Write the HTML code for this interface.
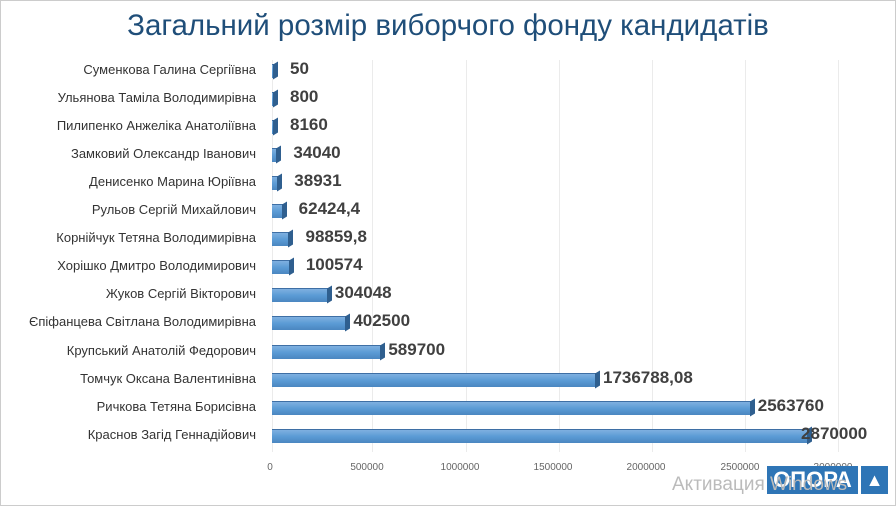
<!DOCTYPE html>
<html><head><meta charset="utf-8"><style>
body{margin:0;width:896px;height:506px;background:#fff;position:relative;overflow:hidden;font-family:"Liberation Sans",sans-serif}
.t{position:absolute;left:0;width:896px;top:9px;text-align:center;font-size:29.5px;color:#1f4e79}
.n{position:absolute;right:640px;font-size:13px;color:#333;white-space:nowrap}
.b{position:absolute;left:272px;height:13px;background:linear-gradient(#7fb0e0,#5b9bd5 50%,#4a86c0);border-top:1px solid #3e6fa5}
.c{position:absolute;width:5px;height:15px;background:#2f5f8f;transform:skewY(-30deg)}
.v{position:absolute;font-size:17px;font-weight:bold;color:#404040;white-space:nowrap}
.g{position:absolute;top:60px;height:392px;width:1px;background:#ebebeb}
.x{position:absolute;top:462px;font-size:10px;color:#666;transform:translateX(-50%)}
</style></head><body>
<div style="position:absolute;inset:0;border:1px solid #ccc"></div>
<div class="t">Загальний розмір виборчого фонду кандидатів</div>
<div class="g" style="left:272px"></div><div class="g" style="left:372px"></div><div class="g" style="left:466px"></div><div class="g" style="left:559px"></div><div class="g" style="left:652px"></div><div class="g" style="left:745px"></div><div class="g" style="left:838px"></div>
<div class="x" style="left:270px">0</div><div class="x" style="left:367px">500000</div><div class="x" style="left:460px">1000000</div><div class="x" style="left:553px">1500000</div><div class="x" style="left:646px">2000000</div><div class="x" style="left:740px">2500000</div><div class="x" style="left:833px">3000000</div>
<div id="r"></div>
<div style="position:absolute;left:767px;top:466px;width:91px;height:28px;background:#2e75b6;color:#fff;font-weight:bold;font-size:22px;line-height:28px;text-align:center">ОПОРА</div>
<div style="position:absolute;left:861px;top:466px;width:27px;height:28px;background:#2e75b6;color:#fff;font-size:18px;line-height:28px;text-align:center">▲</div>
<div style="position:absolute;left:672px;top:474px;font-size:19px;color:#bbb">Активация Windows</div>
<script>
var d=[["Суменкова Галина Сергіївна",50,"50"],["Ульянова Таміла Володимирівна",800,"800"],["Пилипенко Анжеліка Анатоліївна",8160,"8160"],["Замковий Олександр Іванович",34040,"34040"],["Денисенко Марина Юріївна",38931,"38931"],["Рульов Сергій Михайлович",62424.4,"62424,4"],["Корнійчук Тетяна Володимирівна",98859.8,"98859,8"],["Хорішко Дмитро Володимирович",100574,"100574"],["Жуков Сергій Вікторович",304048,"304048"],["Єпіфанцева Світлана Володимирівна",402500,"402500"],["Крупський Анатолій Федорович",589700,"589700"],["Томчук Оксана Валентинівна",1736788.08,"1736788,08"],["Ричкова Тетяна Борисівна",2563760,"2563760"],["Краснов Загід Геннадійович",2870000,"2870000"]];
var h="";d.forEach(function(e,i){var y=70+i*28.05,w=Math.max(3,e[1]/5344);
var off=i<8?15:(i==13?-8:6);
h+='<div class="n" style="top:'+(y-8)+'px">'+e[0]+'</div><div class="b" style="top:'+(y-6)+'px;width:'+w+'px"></div><div class="c" style="left:'+(272+w-2)+'px;top:'+(y-7)+'px"></div><div class="v" style="left:'+(272+w+off)+'px;top:'+(y-11)+'px">'+e[2]+'</div>';});
document.getElementById("r").innerHTML=h;
</script>
</body></html>
